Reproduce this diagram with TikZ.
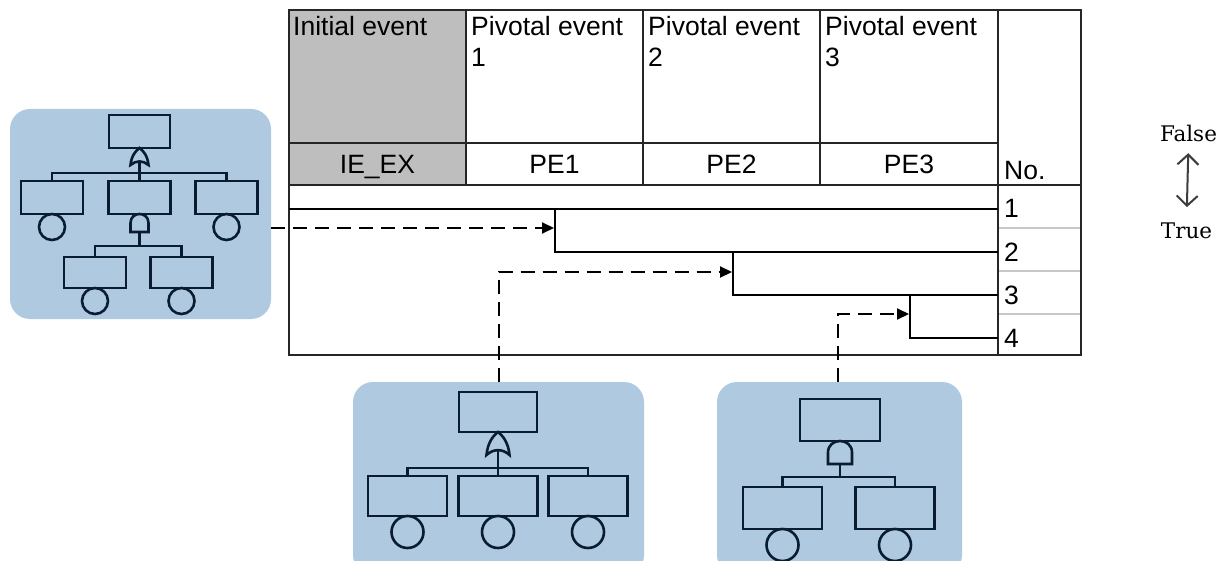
\documentclass[tikz,border=0pt]{standalone}
\usepackage{fontspec}
\setmainfont{Liberation Sans}
\newfontfamily\labelserif{DejaVu Serif}
\usetikzlibrary{arrows.meta}

\definecolor{treeblue}{RGB}{175,201,224}
\definecolor{treeink}{RGB}{10,28,48}
\definecolor{iegray}{RGB}{190,190,190}
\definecolor{gridink}{RGB}{38,38,38}
\definecolor{rowgray}{RGB}{200,200,200}
\definecolor{arrowgray}{RGB}{60,60,60}

\tikzset{
  panel/.style={fill=treeblue, rounded corners=20pt, inner sep=0pt, outer sep=0pt},
  evbox/.style={rectangle, draw=treeink, line width=2.6pt, inner sep=0pt, outer sep=0pt},
  basicev/.style={circle, draw=treeink, line width=2.6pt, inner sep=0pt, outer sep=0pt},
  treeline/.style={draw=treeink, line width=2.6pt},
  tablerule/.style={draw=gridink, line width=1.8pt},
  seqline/.style={draw=black, line width=2pt},
  feed/.style={draw=black, line width=2pt, dash pattern=on 14pt off 8pt,
    -{Triangle[length=12pt,width=11pt]}},
  celltext/.style={inner sep=0pt, font=\fontsize{26.5}{31}\selectfont},
  tflabel/.style={inner sep=0pt, anchor=base, font=\labelserif\fontsize{21.5}{26}\selectfont},
  pics/orgate/.style={code={
    \draw[treeline, line join=miter] (-0.5,1) .. controls (-0.45,0.45) and (-0.2,0.15) .. (0,0)
      .. controls (0.2,0.15) and (0.45,0.45) .. (0.5,1)
      .. controls (0.2,0.72) and (-0.2,0.72) .. (-0.5,1) -- cycle;}},
  pics/andgate/.style={code={
    \draw[treeline] (-0.5,1) -- (-0.5,0.5) .. controls (-0.5,-0.167) and (0.5,-0.167) .. (0.5,0.5)
      -- (0.5,1) -- cycle;}},
}

\begin{document}
\begin{tikzpicture}[x=1pt, y=-1pt]
\useasboundingbox (0,0) rectangle (1222,561);
\clip (0,0) rectangle (1222,561);

% ---------- event tree table ----------
\fill[iegray] (289,10) rectangle (466,185);
\draw[tablerule] (289,10) rectangle (1081,355);
\foreach \cx in {466,643,820} \draw[tablerule] (\cx,10) -- (\cx,185);
\draw[tablerule] (998,10) -- (998,355);
\draw[tablerule] (289,143) -- (998,143);
\draw[tablerule] (289,185) -- (1081,185);
\foreach \ry in {228,271,314} \draw[rowgray, line width=1.6pt] (999,\ry) -- (1080,\ry);

\node[celltext, anchor=base west] (ieh) at (293,36) {Initial event};
\node[celltext, anchor=base west] (pe1h) at (471,36) {\parbox[t]{170pt}{Pivotal event\\1}};
\node[celltext, anchor=base west] (pe2h) at (648,36) {\parbox[t]{170pt}{Pivotal event\\2}};
\node[celltext, anchor=base west] (pe3h) at (825,36) {\parbox[t]{170pt}{Pivotal event\\3}};
\node[celltext, anchor=base] (iec) at (377.5,174) {IE\_EX};
\node[celltext, anchor=base] (pe1c) at (554.5,174) {PE1};
\node[celltext, anchor=base] (pe2c) at (731.5,174) {PE2};
\node[celltext, anchor=base] (pe3c) at (909,174) {PE3};
\node[celltext, anchor=base west] (noh) at (1004,180) {No.};
\node[celltext, anchor=base west] (n1) at (1004,218) {1};
\node[celltext, anchor=base west] (n2) at (1004,261) {2};
\node[celltext, anchor=base west] (n3) at (1004,304) {3};
\node[celltext, anchor=base west] (n4) at (1004,347) {4};

% sequence branches
\coordinate (s0) at (289,209);
\coordinate (b1) at (555,209);
\coordinate (b2) at (733,252);
\coordinate (b3) at (910,295);
\draw[seqline] (s0) -- (998,209);
\draw[seqline] (b1) -- (555,252) -- (998,252);
\draw[seqline] (b2) -- (733,295) -- (998,295);
\draw[seqline] (b3) -- (910,338) -- (998,338);

% ---------- fault tree of the initial event ----------
\node[panel, minimum width=261pt, minimum height=210pt] (ftL) at (140.5,214) {};
\node[evbox, minimum width=61pt, minimum height=33pt] (L0) at (139.5,131.5) {};
\pic[xscale=18, yscale=17] at (139.5,148) {orgate};
\node[evbox, minimum width=62pt, minimum height=33pt] (L1) at (52,197.5) {};
\node[evbox, minimum width=62pt, minimum height=33pt] (L2) at (139.5,197.5) {};
\node[evbox, minimum width=62pt, minimum height=33pt] (L3) at (226.5,197.5) {};
\draw[treeline] (139.5,162) -- (L2.north);
\draw[treeline] (L1.north) -- ++(0,-8) -| (L3.north);
\node[basicev, minimum size=26pt, anchor=north] (L1c) at (L1.south) {};
\node[basicev, minimum size=26pt, anchor=north] (L3c) at (L3.south) {};
\pic[xscale=18, yscale=18] at (L2.south) {andgate};
\node[evbox, minimum width=62pt, minimum height=31pt] (L4) at (95,272.5) {};
\node[evbox, minimum width=62pt, minimum height=31pt] (L5) at (181.5,272.5) {};
\draw[treeline] (139.5,232) -- (139.5,246);
\draw[treeline] (L4.north) -- ++(0,-11) -| (L5.north);
\node[basicev, minimum size=26pt, anchor=north] (L4c) at (L4.south) {};
\node[basicev, minimum size=26pt, anchor=north] (L5c) at (L5.south) {};

% ---------- fault tree of pivotal event 1 ----------
\node[panel, minimum width=291pt, minimum height=193pt] (ftM) at (498.5,478.5) {};
\node[evbox, minimum width=78pt, minimum height=40pt] (M0) at (498,412) {};
\pic[xscale=23, yscale=23] at (498,432) {orgate};
\node[evbox, minimum width=79pt, minimum height=40pt] (M1) at (407.5,496) {};
\node[evbox, minimum width=79pt, minimum height=40pt] (M2) at (498,496) {};
\node[evbox, minimum width=79pt, minimum height=40pt] (M3) at (588,496) {};
\draw[treeline] (498,450) -- (M2.north);
\draw[treeline] (M1.north) -- ++(0,-8) -| (M3.north);
\node[basicev, minimum size=32pt, anchor=north] (M1c) at (M1.south) {};
\node[basicev, minimum size=32pt, anchor=north] (M2c) at (M2.south) {};
\node[basicev, minimum size=32pt, anchor=north] (M3c) at (M3.south) {};

% ---------- fault tree of pivotal event 2 ----------
\node[panel, minimum width=245pt, minimum height=193pt] (ftR) at (839.5,478.5) {};
\node[evbox, minimum width=80pt, minimum height=42pt] (R0) at (840,420) {};
\pic[xscale=24, yscale=23] at (R0.south) {andgate};
\node[evbox, minimum width=79pt, minimum height=42pt] (R1) at (782.5,508) {};
\node[evbox, minimum width=79pt, minimum height=42pt] (R2) at (895,508) {};
\draw[treeline] (840,464) -- (840,477);
\draw[treeline] (R1.north) -- ++(0,-10) -| (R2.north);
\node[basicev, minimum size=32pt, anchor=north] (R1c) at (R1.south) {};
\node[basicev, minimum size=32pt, anchor=north] (R2c) at (R2.south) {};

% ---------- links from fault trees to branch points ----------
\coordinate (t1) at (554,228);
\coordinate (t2) at (732,272);
\coordinate (t3) at (909,314);
\draw[feed] (ftL.east |- t1) -- (t1);
\draw[feed] (ftM.north) |- (t2);
\draw[feed] ([xshift=-1.5pt]ftR.north) |- (t3);

% ---------- legend ----------
\node[tflabel] (fls) at (1188.5,141.7) {False};
\node[tflabel] (tru) at (1186.5,238) {True};
\draw[arrowgray, line width=2pt, shorten <=11pt, shorten >=15pt,
  {Straight Barb[length=10pt,width=21pt]}-{Straight Barb[length=10pt,width=21pt]}]
  (fls.south) -- (tru.north);
\end{tikzpicture}
\end{document}
